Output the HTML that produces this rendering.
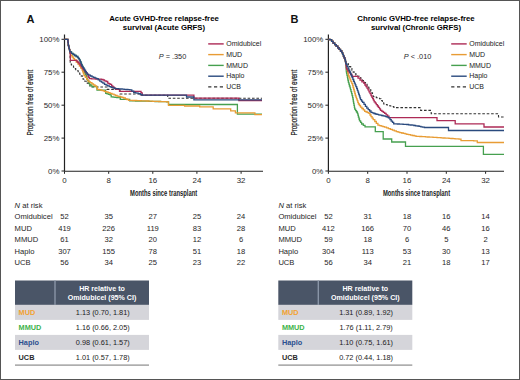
<!DOCTYPE html>
<html><head><meta charset="utf-8"><style>
html,body{margin:0;padding:0;background:#fff;}
body{width:520px;height:380px;overflow:hidden;}
svg{display:block;}
text{font-family:"Liberation Sans",sans-serif;fill:#333;}
.tk{font-size:7.9px;fill:#2a2a2a;}
.lt{font-size:11px;font-weight:bold;fill:#111;}
.tt{font-size:7.8px;font-weight:bold;fill:#000;}
.lg{font-size:7px;fill:#222;}
.al{font-size:8.6px;fill:#222;font-weight:bold;}
.rk{font-size:7.6px;fill:#1e1e1e;}
.hh{font-size:7.1px;font-weight:bold;fill:#fff;}
.hl{font-size:7.3px;font-weight:bold;}
.hv{font-size:7.35px;fill:#222;}
</style></head><body>
<svg width="520" height="380" viewBox="0 0 520 380">
<rect x="0" y="0" width="520" height="380" fill="#fff"/>
<path d="M64.5 34.5 V171.25 H263" stroke="#222" stroke-width="1.2" fill="none"/>
<path d="M61.5 39.3 H64.5" stroke="#222" stroke-width="1"/>
<text x="59.5" y="41.9" text-anchor="end" class="tk">100%</text>
<path d="M61.5 72.2 H64.5" stroke="#222" stroke-width="1"/>
<text x="59.5" y="74.8" text-anchor="end" class="tk">75%</text>
<path d="M61.5 105.2 H64.5" stroke="#222" stroke-width="1"/>
<text x="59.5" y="107.8" text-anchor="end" class="tk">50%</text>
<path d="M61.5 138.1 H64.5" stroke="#222" stroke-width="1"/>
<text x="59.5" y="140.7" text-anchor="end" class="tk">25%</text>
<path d="M61.5 171.0 H64.5" stroke="#222" stroke-width="1"/>
<text x="59.5" y="173.6" text-anchor="end" class="tk">0%</text>
<path d="M64.5 171.5 V173.8" stroke="#222" stroke-width="1"/>
<text x="64.5" y="183.3" text-anchor="middle" class="tk">0</text>
<path d="M108.7 171.5 V173.8" stroke="#222" stroke-width="1"/>
<text x="108.7" y="183.3" text-anchor="middle" class="tk">8</text>
<path d="M152.8 171.5 V173.8" stroke="#222" stroke-width="1"/>
<text x="152.8" y="183.3" text-anchor="middle" class="tk">16</text>
<path d="M196.9 171.5 V173.8" stroke="#222" stroke-width="1"/>
<text x="196.9" y="183.3" text-anchor="middle" class="tk">24</text>
<path d="M241.1 171.5 V173.8" stroke="#222" stroke-width="1"/>
<text x="241.1" y="183.3" text-anchor="middle" class="tk">32</text>
<text x="26.5" y="23.1" class="lt">A</text>
<text x="164" y="20.6" text-anchor="middle" class="tt">Acute GVHD-free relapse-free</text>
<text x="164" y="29.8" text-anchor="middle" class="tt">survival (Acute GRFS)</text>
<text x="158.7" y="59" class="tk" style="font-size:7.35px"><tspan font-style="italic">P</tspan> = .350</text>
<path d="M208.2 43.9 h15.5" stroke="#ad2a56" stroke-width="1.4"/>
<text x="226.2" y="46.0" class="lg">Omidubicel</text>
<path d="M208.2 54.6 h15.5" stroke="#e89c34" stroke-width="1.4"/>
<text x="226.2" y="56.8" class="lg">MUD</text>
<path d="M208.2 65.4 h15.5" stroke="#46a04f" stroke-width="1.4"/>
<text x="226.2" y="67.5" class="lg">MMUD</text>
<path d="M208.2 76.2 h15.5" stroke="#2a4a7e" stroke-width="1.4"/>
<text x="226.2" y="78.2" class="lg">Haplo</text>
<path d="M208.2 86.9 h15.5" stroke="#333333" stroke-width="1.4" stroke-dasharray="3.2 2.6"/>
<text x="226.2" y="89.0" class="lg">UCB</text>
<text x="0" y="0" text-anchor="middle" class="al" transform="translate(163.6 196) scale(0.68 1)">Months since transplant</text>
<text x="0" y="0" text-anchor="middle" class="al" style="font-weight:normal;font-size:8.9px;fill:#111;stroke:#111;stroke-width:0.18px" transform="translate(33.1 102.6) rotate(-90) scale(0.71 1)">Proportion free of event</text>
<path d="M64.5 39.3 H67.8 H67.9 V40.8 H68.0 V42.4 H68.2 V44.0 H68.3 V45.5 H68.7 V46.9 H69.0 V48.3 H69.4 V49.7 H69.7 V50.8 H69.9 V51.8 H70.0 V53.5 H70.0 V55.3 H70.1 V57.0 H70.1 V58.8 H70.2 V60.5 H70.2 V62.3 H70.3 V64.0 H71.4 V65.0 H72.5 V66.0 H73.5 V67.3 H74.6 V68.6 H75.7 V69.7 H76.7 V70.7 H78.2 V72.4 H79.7 V74.2 H81.2 V75.9 H82.2 V77.6 H83.1 V79.2 H84.8 V81.2 H86.5 V83.1 H88.3 V85.0 H90.0 V87.0 H106.9 V89.4 H120.0 V94.0 H140.0 V95.2 H167.7 V98.2 H262.0" stroke="#333333" stroke-width="1.1" fill="none" stroke-dasharray="2.6 1.8"/>
<path d="M64.5 39.3 H67.8 H67.9 V40.8 H68.0 V42.4 H68.2 V44.0 H68.3 V45.5 H68.7 V46.9 H69.0 V48.3 H69.4 V49.7 H69.7 V50.8 H69.9 V51.8 H71.5 V53.4 H73.0 V54.5 H74.6 V55.5 H76.2 V56.5 H77.8 V57.6 H78.6 V58.7 H79.4 V59.7 H79.9 V60.8 H80.4 V61.8 H81.0 V63.4 H81.5 V65.0 H82.2 V66.5 H83.0 V68.0 H83.7 V70.0 H84.3 V72.0 H85.0 V74.0 H85.7 V75.6 H86.4 V77.2 H87.0 V79.0 H87.6 V80.7 H88.7 V82.7 H89.3 V83.8 H89.9 V85.0 H91.9 V86.6 H97.0 V90.2 H105.3 H105.5 V91.8 H105.7 V93.3 H107.1 V93.8 H108.6 V94.4 H110.0 V94.9 H111.2 V96.9 H113.1 V97.1 H115.0 V97.3 H116.8 V97.5 H118.7 V97.7 H120.3 V99.3 H129.7 V100.8 H131.6 V100.8 H133.6 V100.9 H135.5 V101.0 H137.5 V101.0 H139.4 V101.0 H141.3 V101.1 H143.3 V101.1 H145.2 V101.2 H147.2 V101.2 H149.1 V101.3 H151.0 V101.3 H153.0 V101.4 H154.9 V101.5 H156.9 V101.5 H158.8 V101.5 H160.7 V101.6 H162.7 V101.6 H164.6 V101.7 H166.6 V101.8 H168.5 V101.8 V104.5 H237.4 V114.2 H262.0" stroke="#46a04f" stroke-width="1.3" fill="none"/>
<path d="M64.5 39.3 H67.8 H67.9 V40.8 H68.0 V42.4 H68.2 V44.0 H68.3 V45.5 H68.7 V46.9 H69.0 V48.3 H69.4 V49.7 H69.7 V50.8 H69.9 V51.8 H70.5 V53.6 H71.0 V55.5 H72.2 V57.0 H73.3 V58.5 H74.5 V60.0 H76.2 V62.0 H78.0 V64.0 H79.4 V66.0 H80.7 V68.0 H82.1 V70.0 H82.7 V71.9 H83.4 V73.7 H84.0 V75.6 H85.3 V77.4 H86.7 V79.3 H88.0 V81.1 H89.2 V81.9 H90.3 V82.7 H91.9 V83.8 H93.5 V85.0 H95.0 V86.0 H96.6 V87.0 H97.0 V88.2 H97.4 V89.3 H99.0 V89.7 H100.6 V90.2 H102.2 V90.6 H104.2 V91.3 H106.1 V92.0 H108.0 V92.7 H110.0 V93.3 H112.0 V94.1 H114.0 V94.9 H115.5 V95.5 H117.1 V96.1 H118.7 V96.5 H120.3 V96.9 H121.9 V97.3 H123.6 V98.0 H125.3 V98.8 H127.0 V99.5 H128.7 V100.3 H130.7 V100.4 H132.7 V100.5 H134.7 V100.5 H136.7 V100.6 H138.6 V100.7 H140.6 V100.8 H142.6 V100.9 H144.6 V100.9 H146.6 V101.0 H148.6 V101.1 H150.6 V101.2 H152.6 V101.3 H154.6 V101.3 H156.6 V101.4 H158.6 V101.5 H160.5 V101.6 H162.5 V101.7 H164.5 V101.7 H166.5 V101.8 H168.5 V101.9 V105.3 H184.6 V106.0 H199.7 V106.9 H213.2 V108.8 H230.7 V110.8 H235.4 V112.8 H254.9 V114.6 H262.0" stroke="#e89c34" stroke-width="1.3" fill="none"/>
<path d="M64.5 39.3 H67.8 H67.9 V40.8 H68.0 V42.4 H68.2 V44.0 H68.3 V45.5 H68.7 V46.9 H69.0 V48.3 H69.4 V49.7 H69.7 V50.8 H69.9 V51.8 H70.2 V53.0 H70.2 V54.8 H70.3 V56.6 H70.4 V58.5 H70.4 V60.3 H76.0 H77.0 V61.5 H78.0 V62.6 H79.1 V63.8 H80.2 V65.0 H81.2 V66.6 H82.1 V68.1 H83.1 V69.7 H84.4 V71.1 H85.6 V72.6 H86.9 V74.0 H87.9 V76.0 H88.7 V77.3 H89.5 V78.7 H91.5 V78.8 H93.5 V78.9 H95.5 V79.0 H97.4 V79.1 H99.4 V79.2 H101.4 V79.3 H103.0 V80.0 H104.5 V80.8 H106.1 V81.5 H107.7 V83.1 H108.8 V83.7 H110.0 V84.3 H111.6 V85.8 H112.8 V87.0 H114.0 V88.2 H115.6 V89.4 H118.7 H119.5 V91.4 H140.0 H141.0 V92.7 H142.0 V94.0 H142.3 V95.2 H193.9 V98.1 H238.8 V100.5 H262.0" stroke="#ad2a56" stroke-width="1.3" fill="none"/>
<path d="M64.5 39.3 H67.8 H67.9 V40.8 H68.0 V42.4 H68.2 V44.0 H68.3 V45.5 H68.7 V46.9 H69.0 V48.3 H69.4 V49.7 H69.7 V50.8 H69.9 V51.8 H71.5 V53.4 H73.0 V54.5 H74.6 V55.5 H76.2 V56.5 H77.8 V57.6 H78.6 V58.7 H79.4 V59.7 H79.9 V60.8 H80.4 V61.8 H81.0 V63.4 H81.5 V65.0 H82.2 V66.3 H83.0 V67.6 H83.8 V68.9 H84.6 V70.2 H85.5 V71.6 H86.3 V72.9 H87.2 V74.3 H88.8 V75.1 H90.4 V76.0 H92.0 V76.8 H93.5 V77.4 H95.1 V78.1 H96.6 V78.7 H98.2 V79.9 H99.8 V81.1 H101.4 V82.2 H102.9 V83.2 H104.5 V84.3 H106.1 V85.1 H107.7 V85.8 H109.3 V86.6 H111.1 V87.3 H113.0 V87.9 H114.8 V88.6 H116.6 V88.7 H118.5 V88.9 H120.3 V89.0 H122.2 V89.2 H124.1 V89.4 H126.0 V89.5 H127.9 V89.7 H129.8 V89.9 H131.8 V91.1 H133.7 V92.3 H135.3 V92.8 H136.9 V93.2 H138.5 V93.7 H140.4 V94.5 H142.3 V95.2 H186.5 V97.0 H193.9 V99.8 H262.0" stroke="#2a4a7e" stroke-width="1.3" fill="none"/>
<path d="M328.4 34.5 V171.25 H504" stroke="#222" stroke-width="1.2" fill="none"/>
<path d="M325.4 39.3 H328.4" stroke="#222" stroke-width="1"/>
<text x="323.4" y="41.9" text-anchor="end" class="tk">100%</text>
<path d="M325.4 72.2 H328.4" stroke="#222" stroke-width="1"/>
<text x="323.4" y="74.8" text-anchor="end" class="tk">75%</text>
<path d="M325.4 105.2 H328.4" stroke="#222" stroke-width="1"/>
<text x="323.4" y="107.8" text-anchor="end" class="tk">50%</text>
<path d="M325.4 138.1 H328.4" stroke="#222" stroke-width="1"/>
<text x="323.4" y="140.7" text-anchor="end" class="tk">25%</text>
<path d="M325.4 171.0 H328.4" stroke="#222" stroke-width="1"/>
<text x="323.4" y="173.6" text-anchor="end" class="tk">0%</text>
<path d="M328.4 171.5 V173.8" stroke="#222" stroke-width="1"/>
<text x="328.4" y="183.3" text-anchor="middle" class="tk">0</text>
<path d="M367.7 171.5 V173.8" stroke="#222" stroke-width="1"/>
<text x="367.7" y="183.3" text-anchor="middle" class="tk">8</text>
<path d="M407.0 171.5 V173.8" stroke="#222" stroke-width="1"/>
<text x="407.0" y="183.3" text-anchor="middle" class="tk">16</text>
<path d="M446.3 171.5 V173.8" stroke="#222" stroke-width="1"/>
<text x="446.3" y="183.3" text-anchor="middle" class="tk">24</text>
<path d="M485.6 171.5 V173.8" stroke="#222" stroke-width="1"/>
<text x="485.6" y="183.3" text-anchor="middle" class="tk">32</text>
<text x="290.5" y="23.1" class="lt">B</text>
<text x="416" y="20.6" text-anchor="middle" class="tt">Chronic GVHD-free relapse-free</text>
<text x="416" y="29.8" text-anchor="middle" class="tt">survival (Chronic GRFS)</text>
<text x="403.8" y="59" class="tk" style="font-size:7.35px"><tspan font-style="italic">P</tspan> &lt; .010</text>
<path d="M451.2 43.9 h15.5" stroke="#ad2a56" stroke-width="1.4"/>
<text x="469.2" y="46.0" class="lg">Omidubicel</text>
<path d="M451.2 54.6 h15.5" stroke="#e89c34" stroke-width="1.4"/>
<text x="469.2" y="56.8" class="lg">MUD</text>
<path d="M451.2 65.4 h15.5" stroke="#46a04f" stroke-width="1.4"/>
<text x="469.2" y="67.5" class="lg">MMUD</text>
<path d="M451.2 76.2 h15.5" stroke="#2a4a7e" stroke-width="1.4"/>
<text x="469.2" y="78.2" class="lg">Haplo</text>
<path d="M451.2 86.9 h15.5" stroke="#333333" stroke-width="1.4" stroke-dasharray="3.2 2.6"/>
<text x="469.2" y="89.0" class="lg">UCB</text>
<text x="0" y="0" text-anchor="middle" class="al" transform="translate(416.5 196) scale(0.68 1)">Months since transplant</text>
<text x="0" y="0" text-anchor="middle" class="al" style="font-weight:normal;font-size:8.9px;fill:#111;stroke:#111;stroke-width:0.18px" transform="translate(297.0 102.6) rotate(-90) scale(0.71 1)">Proportion free of event</text>
<path d="M328.5 39.5 H330.0 V39.6 H331.6 V41.4 H333.1 V43.1 H334.7 V44.7 H336.2 V46.2 H337.8 V47.8 H339.1 V49.4 H340.5 V51.0 H341.8 V52.6 H342.6 V54.4 H343.4 V56.2 H344.1 V57.9 H344.9 V59.7 H345.4 V61.5 H345.8 V63.4 H347.0 V63.0 H348.2 V64.8 H349.5 V66.6 H350.7 V68.5 H351.9 V70.3 H353.2 V72.1 H354.4 V73.9 H356.0 V75.1 H357.6 V76.3 H359.2 V77.5 H360.8 V78.7 H362.4 V80.6 H364.0 V82.5 H365.5 V84.3 H367.1 V86.2 H368.7 V88.1 H369.7 V89.7 H370.8 V91.3 H371.8 V92.9 H372.5 V94.8 H373.2 V96.6 H374.8 V97.1 H376.4 V97.7 H377.9 V98.2 H379.5 V98.7 H380.9 V100.5 H382.3 V102.2 H383.7 V104.0 H385.3 V104.5 H386.9 V105.0 H388.4 V105.5 H390.0 V106.0 H391.8 V106.5 H393.5 V107.1 H395.3 V107.6 H420.6 V110.4 H431.2 V113.7 H498.5 V117.0 H504.0" stroke="#333333" stroke-width="1.1" fill="none" stroke-dasharray="2.6 1.8"/>
<path d="M328.5 39.5 H330.0 V39.6 H331.6 V41.4 H333.1 V43.1 H334.7 V44.7 H336.2 V46.2 H337.8 V47.8 H339.1 V49.4 H340.5 V51.0 H341.8 V52.6 H342.6 V54.4 H343.4 V56.2 H344.1 V57.9 H344.9 V59.7 H345.4 V61.5 H345.8 V63.4 H345.9 V65.1 H346.0 V66.8 H346.1 V68.4 H346.2 V70.1 H346.3 V71.8 H346.6 V73.5 H347.0 V75.3 H347.4 V77.0 H347.7 V78.8 H348.0 V80.5 H348.4 V82.3 H348.9 V84.2 H349.4 V86.0 H350.0 V87.8 H350.5 V89.7 H351.0 V91.7 H351.6 V93.7 H352.1 V95.6 H352.6 V97.6 H353.0 V99.5 H353.3 V101.5 H353.6 V103.4 H354.0 V105.3 H354.4 V107.3 H354.7 V109.2 H355.6 V110.6 H356.5 V112.0 H357.4 V113.4 H357.9 V115.2 H358.4 V117.1 H359.0 V119.0 H359.5 V120.8 H360.6 V122.4 H361.6 V124.0 H363.3 V125.4 H365.0 V126.8 H375.3 V131.7 H383.2 V139.0 H391.7 V142.0 H405.5 V146.4 H483.4 V154.4 H504.0" stroke="#46a04f" stroke-width="1.3" fill="none"/>
<path d="M328.5 39.5 H330.0 V39.6 H331.6 V41.4 H333.1 V43.1 H334.7 V44.7 H336.2 V46.2 H337.8 V47.8 H339.1 V49.4 H340.5 V51.0 H341.8 V52.6 H342.6 V54.4 H343.4 V56.2 H344.1 V57.9 H344.9 V59.7 H345.4 V61.5 H345.8 V63.4 H346.2 V65.2 H346.5 V67.0 H346.9 V68.8 H347.3 V70.6 H347.7 V72.4 H348.0 V74.2 H348.4 V76.0 H349.2 V77.9 H350.1 V79.8 H350.9 V81.7 H351.8 V83.6 H352.6 V85.5 H353.1 V87.5 H353.7 V89.5 H354.2 V91.5 H354.8 V93.5 H355.3 V95.5 H355.9 V97.2 H356.5 V98.9 H357.2 V100.6 H357.8 V102.3 H358.4 V104.0 H359.4 V105.5 H360.5 V107.1 H361.9 V108.5 H363.3 V109.9 H364.7 V111.3 H366.1 V112.0 H367.5 V112.7 H368.9 V113.4 H370.0 V115.0 H371.0 V116.6 H372.1 V118.1 H373.2 V119.7 H374.8 V121.5 H376.3 V123.3 H377.9 V125.1 H379.5 V125.6 H381.2 V126.1 H382.9 V126.6 H384.5 V127.1 H386.5 V127.9 H388.4 V128.6 H390.4 V129.4 H392.4 V130.2 H394.3 V130.9 H396.3 V131.7 H398.1 V132.1 H399.8 V132.6 H401.6 V133.0 H403.3 V133.4 H405.1 V133.9 H406.8 V134.3 H408.6 V134.7 H410.5 V135.1 H412.3 V135.5 H414.2 V135.9 H416.0 V136.3 H417.9 V136.4 H419.8 V136.5 H421.7 V136.6 H423.6 V136.7 H425.4 V136.9 H427.3 V137.0 H429.2 V137.1 H431.1 V137.2 H433.0 V137.3 H435.0 V137.4 H437.0 V137.6 H439.0 V137.7 H441.0 V137.8 H443.0 V138.0 H445.0 V138.1 H447.0 V138.2 H449.0 V138.4 H451.0 V138.5 H453.0 V138.7 H455.0 V138.8 H457.0 V138.9 H459.0 V139.1 H461.0 V139.2 V140.6 H462.8 V140.6 H464.6 V140.6 H466.4 V140.7 H468.2 V140.7 H470.1 V140.7 H471.9 V140.7 H473.7 V140.8 H475.5 V140.8 H477.3 V140.8 V142.5 H504.0" stroke="#e89c34" stroke-width="1.3" fill="none"/>
<path d="M328.5 39.5 H330.0 V39.6 H331.6 V41.4 H333.1 V43.1 H334.7 V44.7 H336.2 V46.2 H337.8 V47.8 H339.1 V49.4 H340.5 V51.0 H341.8 V52.6 H342.6 V54.4 H343.4 V56.2 H344.1 V57.9 H344.9 V59.7 H345.4 V61.5 H345.8 V63.4 H346.0 V65.3 H346.3 V67.3 H346.5 V69.2 H347.9 V71.0 H349.2 V72.8 H350.6 V74.5 H352.0 V76.3 H356.0 H358.0 V78.2 H360.0 V80.2 H361.9 V81.8 H363.9 V83.4 H364.9 V85.0 H366.0 V86.5 H367.0 V88.1 H368.0 V89.9 H369.0 V91.8 H370.0 V93.7 H371.0 V95.5 H371.8 V97.1 H372.6 V98.7 H373.4 V100.2 H374.2 V101.8 H375.3 V103.2 H376.3 V104.6 H377.4 V106.0 H378.4 V107.4 H379.5 V108.9 H380.5 V110.3 H381.9 V111.3 H383.3 V112.4 H384.7 V113.4 H386.1 V114.8 H387.6 V116.2 H389.0 V117.6 H437.0 V120.6 H455.2 V123.8 H484.0 V127.0 H504.0" stroke="#ad2a56" stroke-width="1.3" fill="none"/>
<path d="M328.5 39.5 H330.0 V39.6 H331.6 V41.4 H333.1 V43.1 H334.7 V44.7 H336.2 V46.2 H337.8 V47.8 H339.1 V49.4 H340.5 V51.0 H341.8 V52.6 H342.6 V54.4 H343.4 V56.2 H344.1 V57.9 H344.9 V59.7 H345.4 V61.5 H345.8 V63.4 H346.3 V64.4 H347.1 V66.3 H348.0 V68.2 H348.8 V70.1 H349.7 V72.0 H350.5 V73.9 H351.3 V75.8 H352.1 V77.6 H352.9 V79.5 H353.7 V81.3 H354.4 V83.1 H355.2 V84.9 H355.9 V86.7 H356.7 V88.5 H357.4 V90.3 H358.0 V92.2 H358.6 V94.1 H359.3 V95.9 H359.9 V97.8 H360.5 V99.7 H361.6 V101.1 H362.6 V102.4 H364.0 V104.3 H365.4 V106.3 H366.8 V108.2 H368.2 V109.6 H369.6 V111.0 H371.0 V112.4 H372.4 V112.9 H373.9 V113.5 H375.3 V114.0 H376.9 V114.4 H378.5 V114.8 H380.0 V115.1 H381.6 V115.5 H383.0 V115.9 H384.4 V116.2 H385.8 V116.6 H387.1 V117.2 H388.4 V117.9 H390.0 V119.7 H391.2 V121.1 H392.5 V122.4 H393.7 V123.8 H395.6 V123.9 H397.4 V124.0 H399.3 V124.1 H401.2 V124.2 H403.1 V124.3 H404.9 V124.4 H406.8 V124.5 H408.6 V124.8 H410.3 V125.0 H412.1 V125.2 H413.9 V125.5 H415.6 V125.8 H417.4 V126.0 H419.1 V126.4 H420.9 V126.8 H422.6 V127.1 H424.4 V127.5 H448.5 V130.5 H504.0" stroke="#2a4a7e" stroke-width="1.3" fill="none"/>
<text x="14.6" y="207.9" class="rk"><tspan font-style="italic">N</tspan> at risk</text>
<text x="14.6" y="219.4" class="rk">Omidubicel</text>
<text x="64.5" y="219.4" text-anchor="middle" class="rk">52</text>
<text x="108.7" y="219.4" text-anchor="middle" class="rk">35</text>
<text x="152.8" y="219.4" text-anchor="middle" class="rk">27</text>
<text x="196.9" y="219.4" text-anchor="middle" class="rk">25</text>
<text x="241.1" y="219.4" text-anchor="middle" class="rk">24</text>
<text x="14.6" y="230.8" class="rk">MUD</text>
<text x="64.5" y="230.8" text-anchor="middle" class="rk">419</text>
<text x="108.7" y="230.8" text-anchor="middle" class="rk">226</text>
<text x="152.8" y="230.8" text-anchor="middle" class="rk">119</text>
<text x="196.9" y="230.8" text-anchor="middle" class="rk">83</text>
<text x="241.1" y="230.8" text-anchor="middle" class="rk">28</text>
<text x="14.6" y="242.2" class="rk">MMUD</text>
<text x="64.5" y="242.2" text-anchor="middle" class="rk">61</text>
<text x="108.7" y="242.2" text-anchor="middle" class="rk">32</text>
<text x="152.8" y="242.2" text-anchor="middle" class="rk">20</text>
<text x="196.9" y="242.2" text-anchor="middle" class="rk">12</text>
<text x="241.1" y="242.2" text-anchor="middle" class="rk">6</text>
<text x="14.6" y="253.6" class="rk">Haplo</text>
<text x="64.5" y="253.6" text-anchor="middle" class="rk">307</text>
<text x="108.7" y="253.6" text-anchor="middle" class="rk">155</text>
<text x="152.8" y="253.6" text-anchor="middle" class="rk">78</text>
<text x="196.9" y="253.6" text-anchor="middle" class="rk">51</text>
<text x="241.1" y="253.6" text-anchor="middle" class="rk">18</text>
<text x="14.6" y="265.0" class="rk">UCB</text>
<text x="64.5" y="265.0" text-anchor="middle" class="rk">56</text>
<text x="108.7" y="265.0" text-anchor="middle" class="rk">34</text>
<text x="152.8" y="265.0" text-anchor="middle" class="rk">25</text>
<text x="196.9" y="265.0" text-anchor="middle" class="rk">23</text>
<text x="241.1" y="265.0" text-anchor="middle" class="rk">22</text>
<text x="278.4" y="207.9" class="rk"><tspan font-style="italic">N</tspan> at risk</text>
<text x="278.4" y="219.4" class="rk">Omidubicel</text>
<text x="328.4" y="219.4" text-anchor="middle" class="rk">52</text>
<text x="367.7" y="219.4" text-anchor="middle" class="rk">31</text>
<text x="407.0" y="219.4" text-anchor="middle" class="rk">18</text>
<text x="446.3" y="219.4" text-anchor="middle" class="rk">16</text>
<text x="485.6" y="219.4" text-anchor="middle" class="rk">14</text>
<text x="278.4" y="230.8" class="rk">MUD</text>
<text x="328.4" y="230.8" text-anchor="middle" class="rk">412</text>
<text x="367.7" y="230.8" text-anchor="middle" class="rk">166</text>
<text x="407.0" y="230.8" text-anchor="middle" class="rk">70</text>
<text x="446.3" y="230.8" text-anchor="middle" class="rk">46</text>
<text x="485.6" y="230.8" text-anchor="middle" class="rk">16</text>
<text x="278.4" y="242.2" class="rk">MMUD</text>
<text x="328.4" y="242.2" text-anchor="middle" class="rk">59</text>
<text x="367.7" y="242.2" text-anchor="middle" class="rk">18</text>
<text x="407.0" y="242.2" text-anchor="middle" class="rk">6</text>
<text x="446.3" y="242.2" text-anchor="middle" class="rk">5</text>
<text x="485.6" y="242.2" text-anchor="middle" class="rk">2</text>
<text x="278.4" y="253.6" class="rk">Haplo</text>
<text x="328.4" y="253.6" text-anchor="middle" class="rk">304</text>
<text x="367.7" y="253.6" text-anchor="middle" class="rk">113</text>
<text x="407.0" y="253.6" text-anchor="middle" class="rk">53</text>
<text x="446.3" y="253.6" text-anchor="middle" class="rk">30</text>
<text x="485.6" y="253.6" text-anchor="middle" class="rk">13</text>
<text x="278.4" y="265.0" class="rk">UCB</text>
<text x="328.4" y="265.0" text-anchor="middle" class="rk">56</text>
<text x="367.7" y="265.0" text-anchor="middle" class="rk">34</text>
<text x="407.0" y="265.0" text-anchor="middle" class="rk">21</text>
<text x="446.3" y="265.0" text-anchor="middle" class="rk">18</text>
<text x="485.6" y="265.0" text-anchor="middle" class="rk">17</text>
<rect x="15" y="280.5" width="134" height="24.4" fill="#4a5567"/>
<rect x="54.3" y="280.5" width="1.4" height="24.4" fill="#8995a7"/>
<text x="102.0" y="291.4" text-anchor="middle" class="hh">HR relative to</text>
<text x="102.0" y="299.8" text-anchor="middle" class="hh">Omidubicel (95% CI)</text>
<rect x="15" y="304.9" width="134" height="15" fill="#d5d5da"/>
<text x="18.6" y="314.8" class="hl" style="fill:#f2a231">MUD</text>
<text x="102.8" y="314.8" text-anchor="middle" class="hv">1.13 (0.70, 1.81)</text>
<text x="18.6" y="329.8" class="hl" style="fill:#3db34a">MMUD</text>
<text x="102.8" y="329.8" text-anchor="middle" class="hv">1.16 (0.66, 2.05)</text>
<rect x="15" y="334.9" width="134" height="15" fill="#d5d5da"/>
<text x="18.6" y="344.8" class="hl" style="fill:#2b4f8f">Haplo</text>
<text x="102.8" y="344.8" text-anchor="middle" class="hv">0.98 (0.61, 1.57)</text>
<text x="18.6" y="359.8" class="hl" style="fill:#2a2a2a">UCB</text>
<text x="102.8" y="359.8" text-anchor="middle" class="hv">1.01 (0.57, 1.78)</text>
<rect x="15" y="364.5" width="134" height="1.2" fill="#8c8c8c"/>
<rect x="278.3" y="280.5" width="134" height="24.4" fill="#4a5567"/>
<rect x="317.6" y="280.5" width="1.4" height="24.4" fill="#8995a7"/>
<text x="365.3" y="291.4" text-anchor="middle" class="hh">HR relative to</text>
<text x="365.3" y="299.8" text-anchor="middle" class="hh">Omidubicel (95% CI)</text>
<rect x="278.3" y="304.9" width="134" height="15" fill="#d5d5da"/>
<text x="281.90000000000003" y="314.8" class="hl" style="fill:#f2a231">MUD</text>
<text x="366.1" y="314.8" text-anchor="middle" class="hv">1.31 (0.89, 1.92)</text>
<text x="281.90000000000003" y="329.8" class="hl" style="fill:#3db34a">MMUD</text>
<text x="366.1" y="329.8" text-anchor="middle" class="hv">1.76 (1.11, 2.79)</text>
<rect x="278.3" y="334.9" width="134" height="15" fill="#d5d5da"/>
<text x="281.90000000000003" y="344.8" class="hl" style="fill:#2b4f8f">Haplo</text>
<text x="366.1" y="344.8" text-anchor="middle" class="hv">1.10 (0.75, 1.61)</text>
<text x="281.90000000000003" y="359.8" class="hl" style="fill:#2a2a2a">UCB</text>
<text x="366.1" y="359.8" text-anchor="middle" class="hv">0.72 (0.44, 1.18)</text>
<rect x="278.3" y="364.5" width="134" height="1.2" fill="#8c8c8c"/>

<rect x="0.5" y="0.5" width="519" height="379" fill="none" stroke="#555" stroke-width="1"/>
</svg>
</body></html>
